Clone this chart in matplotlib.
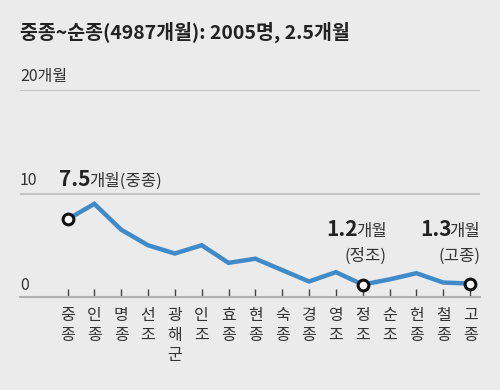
import matplotlib
matplotlib.use('Agg')
import matplotlib.pyplot as plt
from matplotlib.transforms import offset_copy

plt.rcParams['font.family'] = ['Noto Sans CJK KR', 'DejaVu Sans']

# data
kings = ['중종', '인종', '명종', '선조', '광해군', '인조', '효종', '현종',
         '숙종', '경종', '영조', '정조', '순조', '헌종', '철종', '고종']
months = [7.5, 9.0, 6.5, 5.0, 4.2, 5.0, 3.3, 3.7,
          2.6, 1.5, 2.4, 1.2, 1.7, 2.3, 1.4, 1.3]
marked = ['중종', '정조', '고종']
title = '중종~순종(4987개월): 2005명, 2.5개월'

bg = '#ebebeb'
blue = '#3f8ac9'
dark = '#222222'
grey_txt = '#333333'

fig = plt.figure(figsize=(5, 3.9), dpi=100, facecolor=bg)
W, H = 500, 390
ax = fig.add_axes([20 / W, 1 - 297 / H, 460 / W, 207 / H])
ax.set_facecolor(bg)

x = list(range(len(kings)))
ax.plot(x, months, color=blue, lw=3.2, solid_joinstyle='miter', zorder=3)
mx = [kings.index(k) for k in marked]
ax.scatter(mx, [months[i] for i in mx], s=60, facecolor='white',
           edgecolor='#111111', linewidth=2.2, zorder=4)

ax.set_xlim(-1.77, 15.37)
ax.set_ylim(0, 20)

# grid lines and baseline
for yv in [10, 20]:
    ax.axhline(yv, color='#bdbdbd', lw=1.2, zorder=1)
for s in ['top', 'right', 'left']:
    ax.spines[s].set_visible(False)
ax.spines['bottom'].set_color('#b0b0b0')
ax.spines['bottom'].set_linewidth(1.5)
ax.set_yticks([])
ax.set_xticks(x)
ax.set_xticklabels(['\n'.join(k) for k in kings], fontsize=11.5,
                   color=grey_txt, linespacing=1.25, va='top')
ax.tick_params(axis='x', direction='in', length=6, width=1,
               color='#444444', pad=7)

# y labels above the grid lines
ax.text(-1.77, 20.85, '20개월', fontsize=11.5, color=grey_txt, va='baseline')
ax.text(-1.77, 10.8, '10', fontsize=11.5, color=grey_txt, va='baseline')
ax.text(-1.77, 0.7, '0', fontsize=11.5, color=grey_txt, va='baseline')

fig.text(20 / W, 1 - 32 / H, title, fontsize=14, fontweight='bold',
         color=dark, va='center')

renderer = fig.canvas.get_renderer()


def bold_label(xd, yd, num, rest, ha='left'):
    # bold number followed by normal text on the same baseline
    t1 = ax.text(xd, yd, num, fontsize=15, fontweight='bold', color=dark,
                 va='baseline', ha='left')
    bb1 = t1.get_window_extent(renderer)
    t2 = ax.text(xd, yd, rest, fontsize=12, color=grey_txt, va='baseline',
                 ha='left')
    bb2 = t2.get_window_extent(renderer)
    gap = -2
    if ha == 'right':
        shift = -(bb1.width + bb2.width + gap)
    else:
        shift = 0
    t1.set_transform(offset_copy(ax.transData, fig=fig, x=shift, units='dots'))
    t2.set_transform(offset_copy(ax.transData, fig=fig,
                                 x=shift + bb1.width + gap, units='dots'))


bold_label(-0.3, 10.75, '7.5', '개월(중종)')
bold_label(11.9, 5.9, '1.2', '개월', ha='right')
ax.text(11.9, 3.5, '(정조)', fontsize=12, color=grey_txt, ha='right',
        va='baseline')
bold_label(15.37, 5.9, '1.3', '개월', ha='right')
ax.text(15.37, 3.5, '(고종)', fontsize=12, color=grey_txt, ha='right',
        va='baseline')

fig.savefig('out.png', dpi=100, facecolor=bg)
